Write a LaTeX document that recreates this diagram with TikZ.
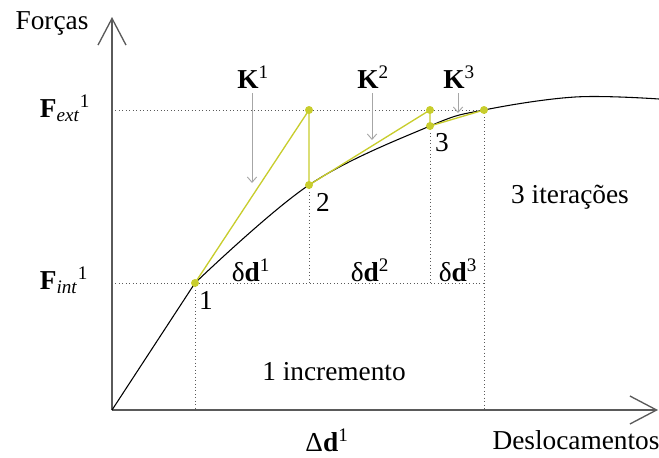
\documentclass[tikz,border=0pt]{standalone}
\usepackage{fontspec}
\setmainfont{Liberation Serif}
\usetikzlibrary{arrows.meta}
\definecolor{amarelo}{RGB}{200,205,45}
\definecolor{eixo}{RGB}{90,90,90}
\tikzset{
  eixoseta/.style={eixo, line width=1.5pt, -{Straight Barb[length=20pt, width=21pt, line width=1pt]}},
  pontilhado/.style={eixo, dotted, line width=0.6pt},
  rigidez/.style={gray!70, line width=0.7pt, -{Straight Barb[length=4pt, width=7pt, line width=0.7pt]}},
  iteracao/.style={amarelo, line width=1pt}
}
\begin{document}
\begin{tikzpicture}[x=0.75pt, y=-0.75pt, font=\fontsize{20.5}{23}\selectfont]
  \useasboundingbox (0,0) rectangle (659,457);
  % eixos
  \coordinate (O) at (112,410);
  \coordinate (ytop) at (112,17);
  \coordinate (xend) at (658,410);
  \draw[eixoseta] (O) -- (ytop);
  \draw[eixoseta] (O) -- (xend);
  \node (forcas) at (52,23) {Forças};
  \node (desloc) at (576,440) {Deslocamentos};
  % pontos das iteracoes
  \foreach \n / \x / \y in {p1/195/283, q1/309/110, p2/309/185, q2/430/110, p3/430/126, q3/484/110} {
    \coordinate (\n) at (\x,\y);
  }
  % linhas de referencia
  \draw[pontilhado] (O |- q1) -- (q3);
  \draw[pontilhado] (O |- p1) -- (q3 |- p1);
  \draw[pontilhado] (p1) -- (p1 |- O);
  \draw[pontilhado] (q3) -- (q3 |- O);
  \foreach \n in {p2, p3} {
    \draw[pontilhado] (\n) -- (\n |- p1);
  }
  % curva
  \draw[black, line width=0.8pt] (O) -- (p1);
  \draw[black, line width=0.8pt] plot[smooth, tension=0.6] coordinates {(p1) (p2) (p3) (q3) (575,97) (659,99)};
  % iteracoes
  \draw[iteracao] (p1) -- (q1) -- (p2) -- (q2) -- (p3) -- (q3);
  \foreach \n in {p1, q1, p2, q2, p3, q3} {
    \fill[amarelo] (\n) circle (4);
  }
  % rotulos
  \node (fext) at (65,108) {\textbf{F}\textsubscript{\textit{ext}}\textsuperscript{1}};
  \node (fint) at (64,280) {\textbf{F}\textsubscript{\textit{int}}\textsuperscript{1}};
  \foreach \n / \x / \y in {1/206/300, 2/323/202, 3/442/143} {
    \node (n\n) at (\x,\y) {\n};
  }
  \foreach \i / \x in {1/251, 2/370, 3/458} {
    \node (dd\i) at (\x,270) {δ\textbf{d}\textsuperscript{\i}};
  }
  \foreach \i / \x / \y in {1/253/183, 2/373/140, 3/459/113} {
    \node (k\i) at (\x,77) {\textbf{K}\textsuperscript{\i}};
    \coordinate (ke\i) at (\x-1,\y);
    \draw[rigidez] (k\i.south -| ke\i) -- (ke\i);
  }
  \node (incr) at (334,372) {1 incremento};
  \node (iter) at (570,197) {3 iterações};
  \node (Dd) at (327,440) {Δ\textbf{d}\textsuperscript{1}};
\end{tikzpicture}
\end{document}
